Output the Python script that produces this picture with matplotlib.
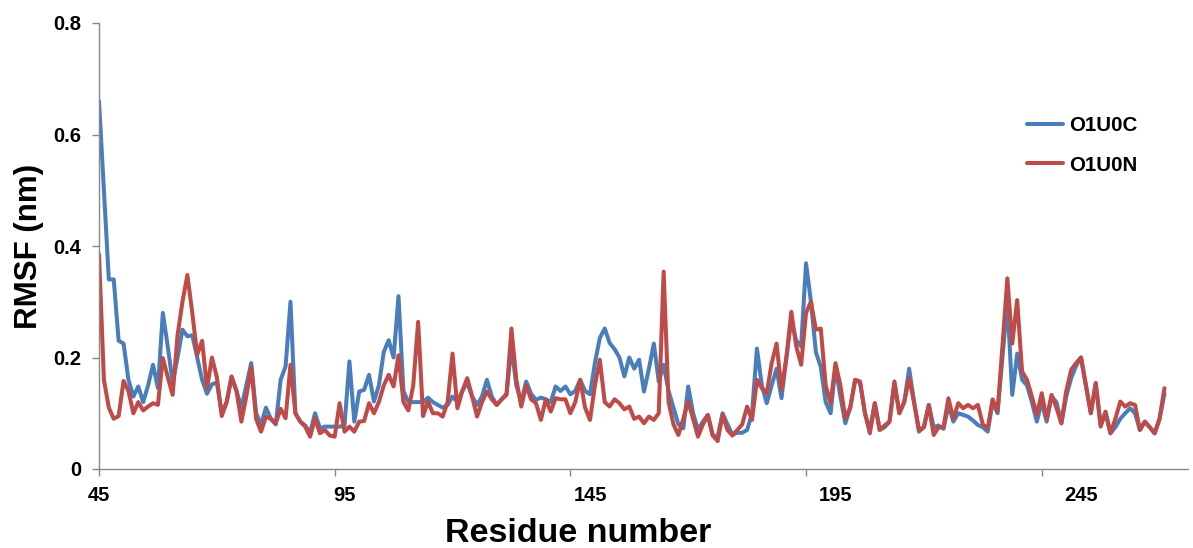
import matplotlib
matplotlib.use("Agg")
import matplotlib.pyplot as plt
import numpy as np

residue_start = 45
o1u0c = [0.66, 0.50, 0.34, 0.34, 0.23, 0.225, 0.16, 0.13, 0.148, 0.12,
         0.15, 0.187, 0.145, 0.28, 0.22, 0.155, 0.20, 0.25, 0.238, 0.24,
         0.20, 0.16, 0.135, 0.152, 0.155, 0.10, 0.12, 0.165, 0.14, 0.11,
         0.15, 0.19, 0.10, 0.08, 0.11, 0.09, 0.08, 0.16, 0.184, 0.30,
         0.10, 0.085, 0.078, 0.065, 0.10, 0.073, 0.076, 0.076, 0.076, 0.076,
         0.078, 0.193, 0.085, 0.139, 0.142, 0.169, 0.121, 0.15, 0.21, 0.231,
         0.20, 0.31, 0.14, 0.12, 0.12, 0.12, 0.12, 0.128, 0.12, 0.115,
         0.11, 0.115, 0.13, 0.12, 0.14, 0.155, 0.13, 0.115, 0.13, 0.16,
         0.13, 0.115, 0.125, 0.135, 0.22, 0.15, 0.12, 0.157, 0.135, 0.124,
         0.128, 0.125, 0.12, 0.148, 0.14, 0.148, 0.134, 0.14, 0.16, 0.14,
         0.134, 0.19, 0.235, 0.252, 0.226, 0.215, 0.20, 0.166, 0.20, 0.18,
         0.196, 0.139, 0.18, 0.225, 0.157, 0.187, 0.14, 0.11, 0.08, 0.073,
         0.148, 0.10, 0.07, 0.085, 0.097, 0.06, 0.058, 0.10, 0.08, 0.062,
         0.065, 0.065, 0.07, 0.10, 0.216, 0.15, 0.118, 0.15, 0.18, 0.127,
         0.20, 0.267, 0.23, 0.22, 0.369, 0.30, 0.21, 0.183, 0.12, 0.10,
         0.183, 0.13, 0.082, 0.11, 0.16, 0.155, 0.10, 0.07, 0.118, 0.07,
         0.075, 0.085, 0.154, 0.10, 0.12, 0.18, 0.12, 0.067, 0.075, 0.115,
         0.075, 0.078, 0.072, 0.115, 0.085, 0.10, 0.097, 0.094, 0.087, 0.079,
         0.075, 0.067, 0.12, 0.10, 0.20, 0.30, 0.133, 0.207, 0.16, 0.15,
         0.12, 0.085, 0.12, 0.085, 0.13, 0.12, 0.082, 0.13, 0.163, 0.185,
         0.20, 0.15, 0.10, 0.154, 0.08, 0.10, 0.064, 0.075, 0.09, 0.10,
         0.109, 0.10, 0.07, 0.085, 0.075, 0.064, 0.09, 0.135]
o1u0n = [0.385, 0.16, 0.11, 0.09, 0.095, 0.158, 0.14, 0.10, 0.12, 0.105,
         0.112, 0.118, 0.115, 0.199, 0.165, 0.133, 0.24, 0.30, 0.348, 0.28,
         0.205, 0.23, 0.145, 0.20, 0.165, 0.095, 0.12, 0.166, 0.14, 0.085,
         0.13, 0.183, 0.09, 0.067, 0.094, 0.09, 0.082, 0.108, 0.091, 0.187,
         0.10, 0.085, 0.076, 0.058, 0.091, 0.064, 0.07, 0.06, 0.058, 0.118,
         0.067, 0.076, 0.067, 0.085, 0.086, 0.118, 0.10, 0.12, 0.15, 0.169,
         0.148, 0.204, 0.12, 0.105, 0.15, 0.264, 0.095, 0.121, 0.10, 0.10,
         0.094, 0.12, 0.207, 0.109, 0.14, 0.163, 0.13, 0.094, 0.12, 0.139,
         0.125, 0.115, 0.125, 0.133, 0.252, 0.16, 0.112, 0.15, 0.125, 0.118,
         0.088, 0.125, 0.103, 0.127, 0.125, 0.125, 0.10, 0.12, 0.16, 0.11,
         0.088, 0.15, 0.196, 0.12, 0.112, 0.125, 0.118, 0.107, 0.112, 0.09,
         0.094, 0.082, 0.094, 0.088, 0.10, 0.354, 0.12, 0.08, 0.061, 0.09,
         0.121, 0.09, 0.058, 0.08, 0.097, 0.06, 0.05, 0.097, 0.07, 0.06,
         0.07, 0.08, 0.112, 0.088, 0.16, 0.145, 0.136, 0.19, 0.225, 0.142,
         0.20, 0.282, 0.22, 0.187, 0.28, 0.30, 0.25, 0.252, 0.15, 0.118,
         0.19, 0.15, 0.091, 0.11, 0.16, 0.157, 0.10, 0.064, 0.118, 0.07,
         0.078, 0.085, 0.157, 0.10, 0.12, 0.163, 0.12, 0.07, 0.075, 0.115,
         0.061, 0.075, 0.075, 0.127, 0.09, 0.118, 0.109, 0.115, 0.109, 0.115,
         0.08, 0.073, 0.125, 0.103, 0.22, 0.342, 0.225, 0.303, 0.175, 0.16,
         0.13, 0.097, 0.136, 0.09, 0.133, 0.11, 0.082, 0.14, 0.178, 0.19,
         0.20, 0.15, 0.10, 0.154, 0.076, 0.103, 0.064, 0.09, 0.121, 0.112,
         0.118, 0.115, 0.07, 0.085, 0.075, 0.064, 0.09, 0.145]
series_names = ["O1U0C", "O1U0N"]
x_label_values = [45, 95, 145, 195, 245]
x_tickmark_values = [45, 93, 141, 189, 237]
y_tick_values = [0, 0.2, 0.4, 0.6, 0.8]
y_tick_labels = ["0", "0.2", "0.4", "0.6", "0.8"]

residues = np.arange(residue_start, residue_start + len(o1u0c))
residues_n = np.arange(residue_start, residue_start + len(o1u0n))

plt.rcParams['font.family'] = ['Liberation Sans', 'DejaVu Sans']
fig = plt.figure(figsize=(11.93, 5.48), dpi=100)
ax = fig.add_axes([99/1193, 1 - 469/548, (1188 - 99)/1193, (469 - 23)/548])

blue = "#4A7EBB"
red = "#BE4B48"
ax.plot(residues, o1u0c, color=blue, lw=2.9, label=series_names[0],
        solid_joinstyle='round', solid_capstyle='round')
ax.plot(residues_n, o1u0n, color=red, lw=2.9, label=series_names[1],
        solid_joinstyle='round', solid_capstyle='round')

ax.set_xlim(45, 45 + (1188 - 99) / 4.91)
ax.set_ylim(0, 0.8)

gray = "#888888"
for s in ["top", "right"]:
    ax.spines[s].set_visible(False)
for s in ["left", "bottom"]:
    ax.spines[s].set_color(gray)
    ax.spines[s].set_linewidth(1.0)

ax.set_yticks(y_tick_values)
ax.set_yticklabels(y_tick_labels, fontsize=14.5, fontweight='bold')
ax.tick_params(axis='y', length=5, width=1, color=gray, pad=8, direction='out')

ax.xaxis.remove_overlapping_locs = False
ax.set_xticks(x_label_values)
ax.set_xticklabels([str(v) for v in x_label_values], fontsize=14.5, fontweight='bold')
ax.tick_params(axis='x', which='major', length=0, pad=12)
ax.set_xticks(x_tickmark_values, minor=True)
ax.tick_params(axis='x', which='minor', length=5, width=1, color=gray, direction='out')

ax.set_ylabel("RMSF (nm)", fontsize=22.5, fontweight='bold')
ax.yaxis.set_label_coords((44 - 99) / 1089, 0.5)
ax.set_xlabel("Residue number", fontsize=24.5, fontweight='bold')
ax.xaxis.set_label_coords((578 - 99) / 1089, (469 - 518) / 446)

leg = ax.legend(loc='upper left', bbox_to_anchor=(1027/1193, 1 - 116/548),
                bbox_transform=fig.transFigure, frameon=False,
                prop={'weight': 'bold', 'size': 14.8}, handlelength=1.75,
                handletextpad=0.3, labelspacing=1.0, borderpad=0,
                borderaxespad=0)

fig.savefig("out.png", dpi=100)
